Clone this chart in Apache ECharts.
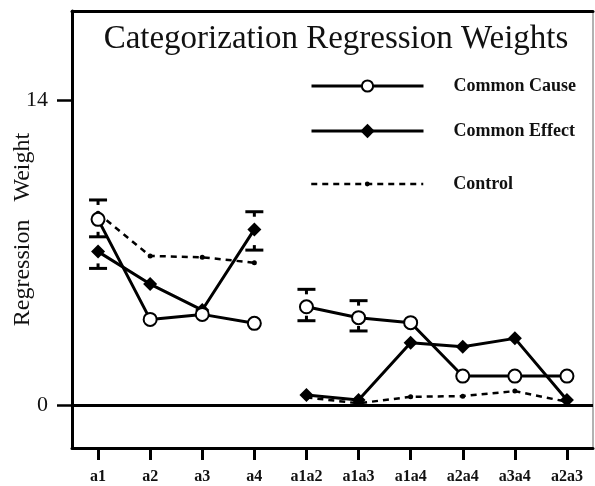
<!DOCTYPE html>
<html>
<head>
<meta charset="utf-8">
<script src="https://cdn.jsdelivr.net/npm/echarts@6/dist/echarts.min.js"></script>
<style>html,body{margin:0;padding:0;background:#fff;}#c{width:595px;height:486px;}</style>
</head>
<body>
<div id="c"></div>
<script>
const categories = ['a1','a2','a3','a4','a1a2','a1a3','a1a4','a2a4','a3a4','a2a3'];
const commonCause  = [8.52, 3.93, 4.16, 3.75, 4.51, 4.01, 3.78, 1.33, 1.33, 1.33];
const commonEffect = [7.04, 5.55, 4.36, 8.06, 0.46, 0.23, 2.86, 2.68, 3.06, 0.23];
const control      = [8.8, 6.84, 6.78, 6.53, 0.35, 0.08, 0.38, 0.41, 0.64, 0.15];
const causeUpper   = [9.41, null, null, null, 5.31, 4.79, null, null, null, null];
const causeLower   = [7.72, null, null, null, 3.87, 3.40, null, null, null, null];
const effectUpper  = [null, null, null, 8.87, null, null, null, null, null, null];
const effectLower  = [6.27, null, null, 7.11, null, null, null, null, null, null];
const yTicks = [0, 14];
const singleCount = 4; // a1..a4 form the first group, pairs form the second

const serif = '"Liberation Serif", "DejaVu Serif", serif';

const capData = [];
[[causeUpper, 1], [causeLower, -1], [effectUpper, 1], [effectLower, -1]].forEach(([arr, dir]) => {
  arr.forEach((v, i) => { if (v !== null) capData.push([i, v, dir]); });
});
const leftPart = arr => arr.map((v, i) => i < singleCount ? v : null);
const rightPart = arr => arr.map((v, i) => i >= singleCount ? v : null);

const styles = {
  'Common Cause': {symbol: 'emptyCircle', symbolSize: 13, z: 4,
    lineStyle: {color: '#000', width: 3},
    itemStyle: {color: '#000', borderColor: '#000', borderWidth: 2.5}},
  'Common Effect': {symbol: 'diamond', symbolSize: 14, z: 3,
    lineStyle: {color: '#000', width: 3}, itemStyle: {color: '#000'}},
  'Control': {symbol: 'circle', symbolSize: 5, z: 2,
    lineStyle: {color: '#000', width: 2.5, type: [6, 5]}, itemStyle: {color: '#000'}}
};
const seriesData = {'Common Cause': commonCause, 'Common Effect': commonEffect, 'Control': control};

const series = [];
Object.keys(seriesData).forEach(name => {
  [leftPart, rightPart].forEach(part => {
    series.push(Object.assign({name: name, type: 'line', data: part(seriesData[name]), connectNulls: false}, styles[name]));
  });
});
series[0].markLine = {
  silent: true, symbol: 'none', label: {show: false},
  lineStyle: {color: '#000', width: 3, type: 'solid'},
  data: [{yAxis: 0}]
};
series.push({
  name: 'errorCaps', type: 'custom', data: capData, z: 5, silent: true,
  renderItem: function (params, api) {
    const p = api.coord([api.value(0), api.value(1)]);
    const dir = api.value(2);
    const half = 9;
    return {
      type: 'group',
      children: [{
        type: 'line', shape: {x1: p[0] - half, y1: p[1], x2: p[0] + half, y2: p[1]},
        style: {stroke: '#000', lineWidth: 3}
      }, {
        type: 'line', shape: {x1: p[0], y1: p[1], x2: p[0], y2: p[1] + dir * 5},
        style: {stroke: '#000', lineWidth: 3}
      }]
    };
  }
});

const legendText = {fontFamily: serif, fontSize: 18, fontWeight: 'bold', color: '#111', padding: [0, 0, 0, 25]};
function legendFor(name, top, h) {
  return {
    orient: 'vertical', left: 310, top: top, padding: 0,
    itemWidth: 112, itemHeight: h, data: [name],
    lineStyle: {width: name === 'Control' ? 2.5 : 3},
    textStyle: legendText
  };
}

const chart = echarts.init(document.getElementById('c'), null, {renderer: 'canvas'});
chart.setOption({
  animation: false,
  backgroundColor: '#fff',
  title: {
    text: 'Categorization Regression Weights',
    left: 331, textAlign: 'center', top: 18,
    textStyle: {fontFamily: serif, fontSize: 33, fontWeight: 'normal', color: '#111'}
  },
  legend: [legendFor('Common Cause', 77, 14), legendFor('Common Effect', 122, 18), legendFor('Control', 175, 6)],
  grid: {left: 72, right: 2, top: 11, bottom: 38, containLabel: false, outerBoundsMode: 'none'},
  xAxis: [{
    type: 'category', data: categories, position: 'bottom',
    axisLine: {show: true, onZero: false, lineStyle: {color: '#000', width: 3}},
    axisTick: {show: true, alignWithLabel: true, length: 12, inside: false, lineStyle: {color: '#000', width: 3}},
    axisLabel: {fontFamily: serif, fontSize: 16, fontWeight: 'bold', color: '#111', margin: 21},
    splitLine: {show: false}
  }, {
    type: 'category', data: categories, position: 'top',
    axisLine: {show: true, onZero: false, lineStyle: {color: '#000', width: 3}},
    axisTick: {show: false}, axisLabel: {show: false}
  }],
  yAxis: [{
    type: 'value', min: -1.97, max: 18.08, position: 'left',
    name: 'Regression   Weight', nameLocation: 'middle', nameGap: 37, nameRotate: 90,
    nameMoveOverlap: false,
    nameTextStyle: {fontFamily: serif, fontSize: 24, color: '#111'},
    axisLine: {show: true, onZero: false, lineStyle: {color: '#000', width: 3}},
    axisTick: {show: true, length: 15, customValues: yTicks, lineStyle: {color: '#000', width: 2.5}},
    axisLabel: {fontFamily: serif, fontSize: 22, color: '#111', margin: 24, customValues: yTicks},
    splitLine: {show: false}
  }, {
    type: 'value', min: -1.97, max: 18.08, position: 'right',
    axisLine: {show: true, onZero: false, lineStyle: {color: '#999', width: 1.5}},
    axisTick: {show: false}, axisLabel: {show: false}, splitLine: {show: false}
  }],
  series: series
});
</script>
</body>
</html>
